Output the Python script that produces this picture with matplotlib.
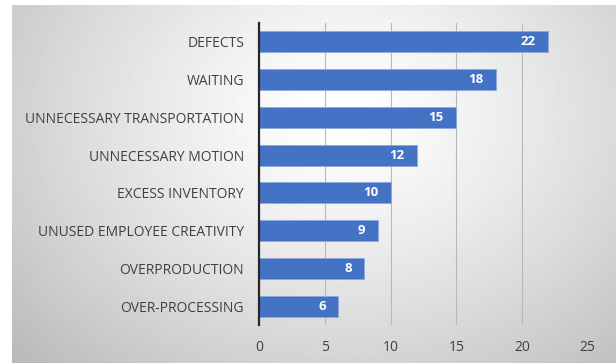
import numpy as np
import matplotlib
matplotlib.use("Agg")
from matplotlib import pyplot as plt

categories = [
    "DEFECTS",
    "WAITING",
    "UNNECESSARY TRANSPORTATION",
    "UNNECESSARY MOTION",
    "EXCESS INVENTORY",
    "UNUSED EMPLOYEE CREATIVITY",
    "OVERPRODUCTION",
    "OVER-PROCESSING",
]
counts = [22, 18, 15, 12, 10, 9, 8, 6]
x_ticks = [0, 5, 10, 15, 20, 25]

plt.rcParams["font.family"] = ["Open Sans", "DejaVu Sans"]

W, H = 616, 363
fig = plt.figure(figsize=(W / 100, H / 100), dpi=100)

# radial grey gradient for the chart area background
bg = fig.add_axes([12 / W, 0, 1 - 12 / W, 1 - 5 / H])
yy, xx = np.mgrid[0:358, 0:604]
cx, cy = 330, 110
r = np.sqrt(((xx - cx) / 420.0) ** 2 + ((yy - cy) / 330.0) ** 2)
shade = 1.0 - 0.25 * np.clip(r, 0, 1.2) ** 1.3
bg.imshow(shade, cmap="gray", vmin=0, vmax=1, aspect="auto", interpolation="bilinear")
bg.axis("off")

ax = fig.add_axes([259.3 / W, 1 - 325 / H, (587.7 - 259.3) / W * 1.0, (325 - 23) / H])
ax.patch.set_alpha(0)

pos = np.arange(len(categories))
ax.barh(pos, counts, height=0.56, color="#4472C4", edgecolor="#8eaadb", linewidth=0.6, zorder=3)
for p, v in zip(pos, counts):
    ax.annotate(str(v), (v, p), xytext=(-9, 0), textcoords="offset points",
                ha="right", va="center", color="white", fontsize=9.5, fontweight="bold", zorder=4)

ax.set_xlim(0, 25)
ax.set_ylim(len(categories) - 0.5, -0.5)
ax.set_yticks(pos)
ax.set_yticklabels(categories)
ax.set_xticks(x_ticks)
ax.grid(axis="x", color="#b8b8b8", linewidth=0.8, zorder=0)
for s in ["top", "right", "bottom"]:
    ax.spines[s].set_visible(False)
ax.spines["left"].set_color("#262626")
ax.spines["left"].set_linewidth(1.6)
ax.spines["left"].set_zorder(5)
ax.tick_params(axis="both", length=0, colors="#404040", labelsize=10)
ax.tick_params(axis="y", pad=11)
ax.tick_params(axis="x", pad=11)

fig.savefig("out.png", dpi=100)
